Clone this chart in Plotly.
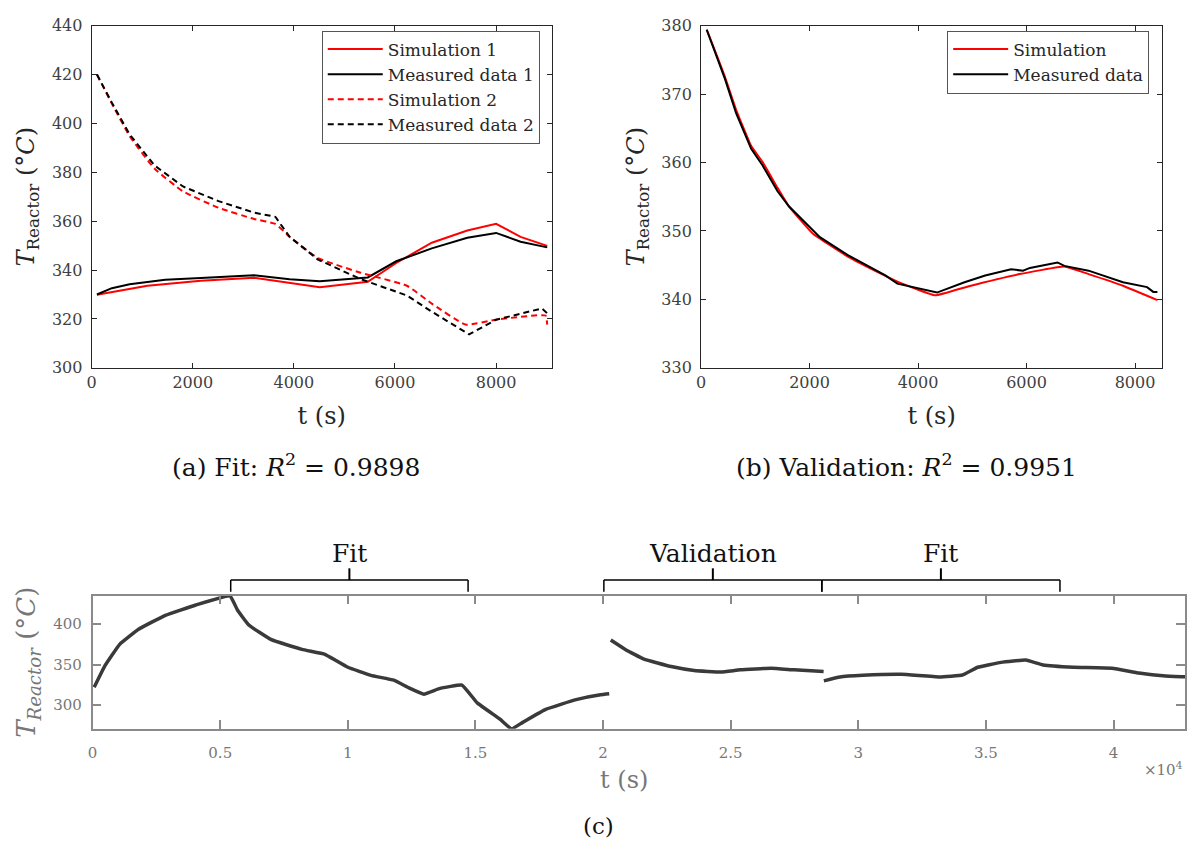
import plotly.graph_objects as go

# ---------------- (a) Fit: two experiments ----------------
t_sim1 = [105, 1104, 2158, 3213, 4513, 5462, 6025, 6728, 7431, 8000, 8485, 9012]
T_sim1 = [329.9, 333.6, 335.6, 336.9, 333.0, 335.2, 342.9, 351.2, 356.2, 358.9, 353.6, 349.9]

t_meas1 = [105, 400, 752, 1455, 2158, 3213, 3916, 4513, 5462, 6025, 6728, 7431, 8000, 8485, 9012]
T_meas1 = [330.0, 332.6, 334.2, 336.0, 336.8, 337.9, 336.3, 335.4, 337.0, 343.6, 348.9, 353.2, 355.2, 351.6, 349.3]

t_sim2 = [105, 400, 752, 1244, 1807, 2510, 3213, 3634, 3916, 4478, 5322, 6236, 6728, 7396, 7993, 8977, 9012]
T_sim2 = [420.0, 408.1, 394.8, 381.5, 372.2, 365.5, 360.9, 358.9, 353.6, 344.9, 338.9, 333.6, 326.3, 317.7, 319.7, 321.4, 317.7]

t_meas2 = [105, 400, 752, 1244, 1807, 2510, 3213, 3634, 3916, 4478, 5322, 6236, 6728, 7466, 8000, 8485, 8907, 9012]
T_meas2 = [420.0, 408.5, 395.5, 382.8, 374.2, 368.2, 363.5, 361.8, 353.6, 344.3, 336.3, 329.6, 323.0, 313.7, 319.7, 322.3, 324.3, 322.3]

# ---------------- (b) Validation ----------------
t_val_sim = [104, 229, 437, 646, 924, 1132, 1410, 1619, 2063, 2698, 3333, 3651, 4317, 4921, 5873,
             6698, 7143, 7778, 8413]
T_val_sim = [379.4, 376.9, 372.6, 367.7, 362.4, 360.1, 356.3, 353.6, 349.6, 346.3, 343.7, 342.5, 340.6, 341.9, 343.7,
             344.8, 343.7, 342.0, 339.9]

t_val_meas = [104, 229, 437, 646, 924, 1132, 1410, 1619, 2190, 2698, 3397, 3619, 3968, 4349, 4857, 5238, 5714,
              5936, 6063, 6571, 6698, 7143, 7778, 8222, 8337, 8413]
T_val_meas = [379.4, 376.7, 372.3, 367.2, 362.0, 359.6, 355.8, 353.6, 349.1, 346.5, 343.5, 342.3, 341.7, 341.0, 342.5,
              343.5, 344.4, 344.2, 344.6, 345.4, 344.9, 344.2, 342.5, 341.8, 341.1, 341.1]

# ---------------- (c) Full measurement record ----------------
t_rec1 = [60, 490, 1060, 1800, 2850, 4040, 5380, 5680, 6120, 7000, 8200, 9100, 9550, 10000,
          10900, 11800, 12380, 12980, 13580, 14470, 15070, 15960, 16410, 16850, 17750, 18940, 19900, 20240]
T_rec1 = [322.0, 349.0, 375.0, 393.6, 410.8, 423.6, 434.8, 417.0, 398.8, 380.8, 368.8, 362.8, 354.8, 346.8,
          336.8, 330.8, 321.6, 313.6, 320.4, 324.8, 302.8, 282.8, 270.8, 278.8, 294.8, 306.8, 312.8, 314.0]

t_rec2 = [20300, 20870, 21600, 22670, 23570, 24620, 25380, 26580, 27480, 28640]
T_rec2 = [380.4, 368.8, 356.8, 347.6, 342.8, 340.8, 343.6, 345.6, 343.6, 341.6]

t_rec3 = [28650, 29280, 30180, 31680, 33180, 34080, 34680, 35590, 36560, 37240, 38440, 39940, 40990, 42040, 42940]
T_rec3 = [330.0, 334.8, 336.8, 338.0, 334.8, 337.2, 346.8, 352.8, 355.6, 349.6, 346.8, 345.6, 339.6, 336.0, 334.8]

# Fit / validation windows marked above panel (c)
window_labels = ["Fit", "Validation", "Fit"]
window_start = [5410, 20030, 28570]
window_end = [14710, 28570, 37900]

captions = ["(a) Fit: <i>R</i><sup>2</sup> = 0.9898",
            "(b) Validation: <i>R</i><sup>2</sup> = 0.9951",
            "(c)"]

W, H = 1192, 858
FONT = "DejaVu Serif"
AX = "#262626"
AXC = "#8a8a8a"
GREY_TXT = "#777777"


def fx(px):
    return px / W


def fy(py):
    return 1 - py / H


fig = go.Figure()

dash = "6px,4px"
fig.add_trace(go.Scatter(x=t_sim1, y=T_sim1, mode="lines", name="Simulation 1",
                         line=dict(color="#ff0000", width=2), xaxis="x", yaxis="y", legend="legend"))
fig.add_trace(go.Scatter(x=t_meas1, y=T_meas1, mode="lines", name="Measured data 1",
                         line=dict(color="#000000", width=2), xaxis="x", yaxis="y", legend="legend"))
fig.add_trace(go.Scatter(x=t_sim2, y=T_sim2, mode="lines", name="Simulation 2",
                         line=dict(color="#ff0000", width=2, dash=dash, shape="spline", smoothing=0.4),
                         xaxis="x", yaxis="y", legend="legend"))
fig.add_trace(go.Scatter(x=t_meas2, y=T_meas2, mode="lines", name="Measured data 2",
                         line=dict(color="#000000", width=2, dash=dash), xaxis="x", yaxis="y", legend="legend"))

fig.add_trace(go.Scatter(x=t_val_sim, y=T_val_sim, mode="lines", name="Simulation",
                         line=dict(color="#ff0000", width=2, shape="spline", smoothing=0.3),
                         xaxis="x2", yaxis="y2", legend="legend2"))
fig.add_trace(go.Scatter(x=t_val_meas, y=T_val_meas, mode="lines", name="Measured data",
                         line=dict(color="#000000", width=2), xaxis="x2", yaxis="y2", legend="legend2"))

t_rec = t_rec1 + [None] + t_rec2 + [None] + t_rec3
T_rec = T_rec1 + [None] + T_rec2 + [None] + T_rec3
fig.add_trace(go.Scatter(x=t_rec, y=T_rec, mode="lines", showlegend=False,
                         line=dict(color="#3a3a3a", width=3.5, shape="spline", smoothing=0.3),
                         xaxis="x3", yaxis="y3"))

tick_font = dict(family=FONT, size=16, color="#404040")
title_font = dict(family=FONT, size=24, color="#262626")


def box_axis(**kw):
    base = dict(showline=True, linecolor=AX, linewidth=1, mirror="ticks", ticks="inside",
                ticklen=5, tickcolor=AX, tickwidth=1, showgrid=False, zeroline=False,
                tickfont=tick_font)
    base.update(kw)
    return base


ylab = "<i>T</i><sub>Reactor</sub> (°<i>C</i>)"
grey_tick = dict(family=FONT, size=15, color=GREY_TXT)

fig.update_layout(
    width=W, height=H, margin=dict(l=0, r=0, t=0, b=0),
    plot_bgcolor="white", paper_bgcolor="white",
    font=dict(family=FONT, color="#262626"),
    xaxis=box_axis(domain=[fx(87), fx(549)], range=[0, 9100], tickvals=[0, 2000, 4000, 6000, 8000],
                   anchor="y", title=dict(text="t (s)", font=title_font, standoff=16)),
    yaxis=box_axis(domain=[fy(367), fy(17)], range=[300, 440], tickvals=list(range(300, 441, 20)),
                   anchor="x", ticklabelstandoff=5, title=dict(text=ylab, font=title_font, standoff=10)),
    xaxis2=box_axis(domain=[fx(699), fx(1162)], range=[0, 8500], tickvals=[0, 2000, 4000, 6000, 8000],
                    anchor="y2", title=dict(text="t (s)", font=title_font, standoff=16)),
    yaxis2=box_axis(domain=[fy(367), fy(17)], range=[330, 380], tickvals=list(range(330, 381, 10)),
                    anchor="x2", ticklabelstandoff=5, title=dict(text=ylab, font=title_font, standoff=9)),
    xaxis3=box_axis(domain=[fx(88), fx(1185)], range=[0, 42800],
                    tickvals=[0, 5000, 10000, 15000, 20000, 25000, 30000, 35000, 40000],
                    ticktext=["0", "0.5", "1", "1.5", "2", "2.5", "3", "3.5", "4"],
                    linecolor=AXC, tickcolor=AXC, linewidth=1.5, tickwidth=1.5, ticklen=9,
                    tickfont=grey_tick, anchor="y3", ticklabelstandoff=10),
    yaxis3=box_axis(domain=[fy(736), fy(600)], range=[271, 435], tickvals=[300, 350, 400],
                    linecolor=AXC, tickcolor=AXC, linewidth=1.5, tickwidth=1.5, ticklen=9,
                    tickfont=grey_tick, anchor="x3", ticklabelstandoff=6,
                    title=dict(text="<i>T</i><sub><i>Reactor</i></sub> (°<i>C</i>)",
                               font=dict(family=FONT, size=26, color=GREY_TXT), standoff=10)),
    legend=dict(x=fx(537), y=fy(22), xanchor="right", yanchor="top", bgcolor="white",
                bordercolor="#555555", borderwidth=1, font=dict(family=FONT, size=17, color="#262626"),
                itemwidth=55, tracegroupgap=0),
    legend2=dict(x=fx(1149), y=fy(22), xanchor="right", yanchor="top", bgcolor="white",
                 bordercolor="#555555", borderwidth=1, font=dict(family=FONT, size=17, color="#262626"),
                 itemwidth=55, tracegroupgap=0),
)

# Brackets marking the fit / validation windows above panel (c)
y_bar, y_foot, y_stem = fy(584), fy(596), fy(572)
for lab, a, b in zip(window_labels, window_start, window_end):
    mid = (a + b) / 2
    fig.add_shape(type="line", xref="x3", yref="paper", x0=a, x1=b, y0=y_bar, y1=y_bar,
                  line=dict(color="#000000", width=1.5))
    for xx in (a, b):
        fig.add_shape(type="line", xref="x3", yref="paper", x0=xx, x1=xx, y0=y_bar, y1=y_foot,
                      line=dict(color="#000000", width=1.5))
    fig.add_shape(type="line", xref="x3", yref="paper", x0=mid, x1=mid, y0=y_bar, y1=y_stem,
                  line=dict(color="#000000", width=2))
    fig.add_annotation(x=mid, y=fy(557), xref="x3", yref="paper", text=lab, showarrow=False,
                       xanchor="center", yanchor="middle",
                       font=dict(family=FONT, size=25, color="#111111"))

# x-axis title and exponent label of panel (c)
fig.add_annotation(x=fx(622), y=fy(788), xref="paper", yref="paper", text="t (s)", showarrow=False,
                   xanchor="center", yanchor="middle", font=dict(family=FONT, size=24, color=GREY_TXT))
fig.add_annotation(x=fx(1163), y=fy(777), xref="paper", yref="paper", text="×10<sup>4</sup>",
                   showarrow=False, xanchor="center", yanchor="middle",
                   font=dict(family=FONT, size=15, color=GREY_TXT))

for txt, cx, cy, sz in zip(captions, [292, 905, 596], [467, 467, 835], [25, 25, 23]):
    fig.add_annotation(x=fx(cx), y=fy(cy), xref="paper", yref="paper", text=txt, showarrow=False,
                       xanchor="center", yanchor="middle",
                       font=dict(family=FONT, size=sz, color="#111111"))

fig.write_html("out.html")
